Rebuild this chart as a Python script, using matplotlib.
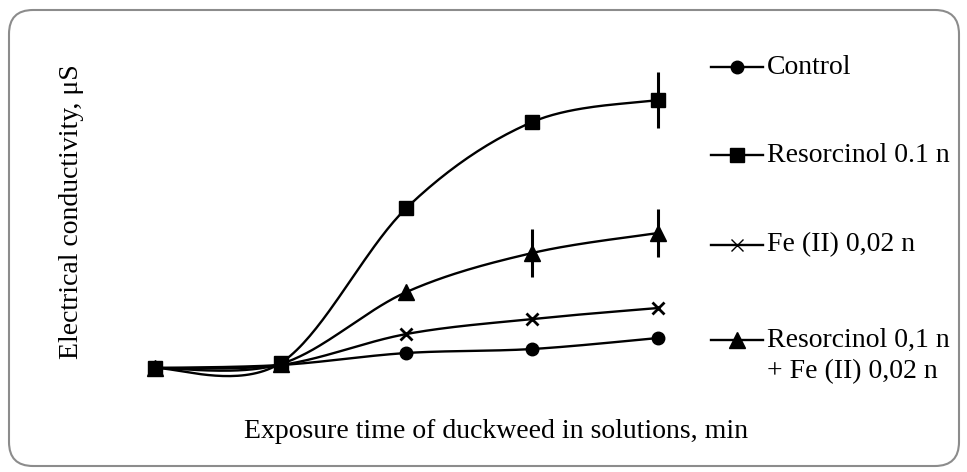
import numpy as np
import matplotlib
matplotlib.use("Agg")
import matplotlib.pyplot as plt
from matplotlib.lines import Line2D
from matplotlib.patches import FancyBboxPatch

plt.rcParams['font.family'] = ['Liberation Serif', 'DejaVu Serif']

# sampling points (exposure stages)
stages = [1, 2, 3, 4, 5]

control = [1.2, 1.5, 2.7, 3.1, 4.2]
resorcinol = [1.2, 1.7, 17.2, 25.8, 28.0]
resorcinol_err = [0, 0, 0, 0, 2.8]
fe = [1.2, 1.5, 4.6, 6.1, 7.2]
combined = [1.2, 1.6, 8.8, 12.7, 14.7]
combined_err = [0, 0, 0, 2.4, 2.4]

labels = ["Control", "Resorcinol 0.1 n", "Fe (II) 0,02 n",
          "Resorcinol 0,1 n\n+ Fe (II) 0,02 n"]

FS = 20


def smooth(x, y, n=40):
    """Bezier smoothing through every point (Catmull-Rom style)."""
    x = np.asarray(x, float)
    y = np.asarray(y, float)
    px = np.concatenate([[x[0]], x, [x[-1]]])
    py = np.concatenate([[y[0]], y, [y[-1]]])
    xs, ys = [], []
    t = np.linspace(0, 1, n)
    for i in range(1, len(px) - 2):
        p0 = np.array([px[i], py[i]])
        p3 = np.array([px[i + 1], py[i + 1]])
        p1 = p0 + (np.array([px[i + 1], py[i + 1]]) - np.array([px[i - 1], py[i - 1]])) / 6
        p2 = p3 - (np.array([px[i + 2], py[i + 2]]) - np.array([px[i], py[i]])) / 6
        b = ((1 - t) ** 3)[:, None] * p0 + (3 * (1 - t) ** 2 * t)[:, None] * p1 \
            + (3 * (1 - t) * t ** 2)[:, None] * p2 + (t ** 3)[:, None] * p3
        xs.append(b[:, 0])
        ys.append(b[:, 1])
    return np.concatenate(xs), np.concatenate(ys)


fig = plt.figure(figsize=(9.67, 4.72), dpi=100)
ax = fig.add_axes([0.0951, 0.1949, 0.6505, 0.7204])

styles = [
    dict(marker='o', ms=9, mew=1),
    dict(marker='s', ms=10, mew=1),
    dict(marker='x', ms=8, mew=2),
    dict(marker='^', ms=11, mew=1),
]
series = [control, resorcinol, fe, combined]
errors = [None, resorcinol_err, None, combined_err]

for vals, err, st in zip(series, errors, styles):
    sx, sy = smooth(stages, vals)
    ax.plot(sx, sy, color='black', lw=1.7, zorder=2)
    if err is not None:
        ax.errorbar(stages, vals, yerr=err, fmt='none', ecolor='black',
                    elinewidth=2.2, capsize=0, zorder=3)
    ax.plot(stages, vals, ls='none', color='black', mfc='black', mec='black',
            zorder=4, **st)

ax.set_xlim(0.5, 5.5)
ax.set_ylim(0, 34)
ax.axis('off')

fig.text(72 / 967, 1 - 212 / 472, "Electrical conductivity, \u03bcS", rotation=90,
         ha='center', va='center', fontsize=FS)
fig.text(496 / 967, 1 - 432 / 472, "Exposure time of duckweed in solutions, min",
         ha='center', va='center', fontsize=FS)

# legend drawn by hand: handle line + marker + label
leg_y = [67, 155, 245, 340]
legend_styles = [
    dict(marker='o', ms=9, mew=1),
    dict(marker='s', ms=10, mew=1),
    dict(marker='x', ms=9, mew=1),
    dict(marker='^', ms=11, mew=1),
]
for y, lab, st in zip(leg_y, labels, legend_styles):
    fy = 1 - y / 472
    fig.add_artist(Line2D([711 / 967, 763 / 967], [fy, fy], color='black',
                          lw=1.7, transform=fig.transFigure))
    fig.add_artist(Line2D([737 / 967], [fy], color='black', mfc='black',
                          mec='black', transform=fig.transFigure, **st))
    if '\n' in lab:
        fig.text(767 / 967, fy + 12 / 472, lab, ha='left', va='top',
                 fontsize=FS, linespacing=1.3)
    else:
        fig.text(767 / 967, fy, lab, ha='left', va='center', fontsize=FS)

# rounded frame around the whole chart
frame = FancyBboxPatch((9, 6), 950, 456,
                       boxstyle="round,pad=0,rounding_size=24",
                       transform=None, fill=False, edgecolor='#8c8c8c', lw=1.5)
fig.add_artist(frame)

fig.savefig("out.png", dpi=100)
